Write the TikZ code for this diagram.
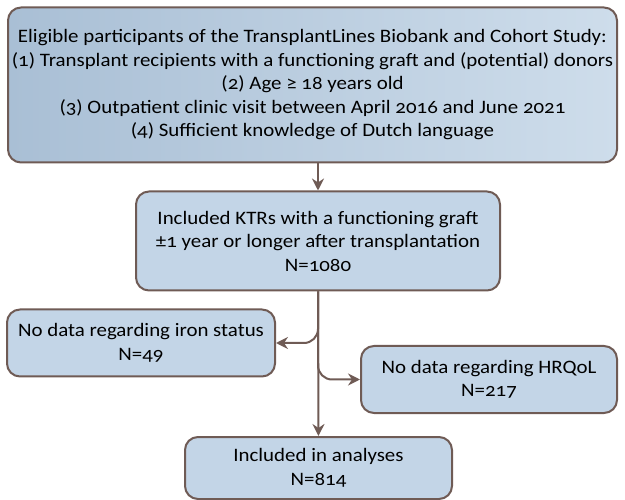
\documentclass[tikz,border=0pt]{standalone}
\usepackage{fontspec}
\setmainfont{Carlito}[Numbers=OldStyle,FakeStretch=1.1]
\usepackage{xcolor}
\usetikzlibrary{arrows.meta}

\definecolor{boxfill}{HTML}{C3D5E7}
\definecolor{boxline}{HTML}{6F5B55}
\definecolor{shadedark}{HTML}{A9BFD5}
\definecolor{shadelight}{HTML}{CEDDEB}

\tikzset{
  flowbox/.style={draw=boxline,fill=boxfill,line width=2pt,rounded corners=13pt,
    align=center,inner sep=0pt,font=\fontsize{19}{23.5}\selectfont},
  flowarrow/.style={draw=boxline,line width=2pt,
    -{Stealth[length=12pt,width=12pt,inset=4pt]}}
}

\begin{document}
\begin{tikzpicture}[x=1pt,y=-1pt,line join=round]
  \useasboundingbox (0,0) rectangle (625,500);
  % boxes
  \node[flowbox,left color=shadedark,right color=shadelight,
        minimum width=609pt,minimum height=155pt] (elig) at (312.5,85.0)
    {Eligible participants of the TransplantLines Biobank and Cohort Study:\\
     (1) Transplant recipients with a functioning graft and (potential) donors\\
     (2) Age ≥ 18 years old\\
     (3) Outpatient clinic visit between April 2016 and June 2021\\
     (4) Sufficient knowledge of Dutch language};
  \node[flowbox,minimum width=364pt,minimum height=99pt] (ktr) at (318.0,241.0)
    {Included KTRs with a functioning graft\\
     ±1 year or longer after transplantation\\
     N=1080};
  \node[flowbox,minimum width=268pt,minimum height=67pt] (iron) at (141.0,343.0)
    {No data regarding iron status\\N=49};
  \node[flowbox,minimum width=256pt,minimum height=67pt] (hrqol) at (489.0,379.5)
    {No data regarding HRQoL\\N=217};
  \node[flowbox,minimum width=267pt,minimum height=62pt] (incl) at (318.5,468.0)
    {Included in analyses\\N=814};
  % connectors
  \draw[flowarrow] (ktr.north |- elig.south) -- (ktr.north);
  \draw[flowarrow] (ktr.south) -- (incl.north);
  \draw[flowarrow,rounded corners=14pt] (ktr.south) |- (iron.east);
  \draw[flowarrow,rounded corners=14pt] (ktr.south) |- (hrqol.west);
\end{tikzpicture}
\end{document}
